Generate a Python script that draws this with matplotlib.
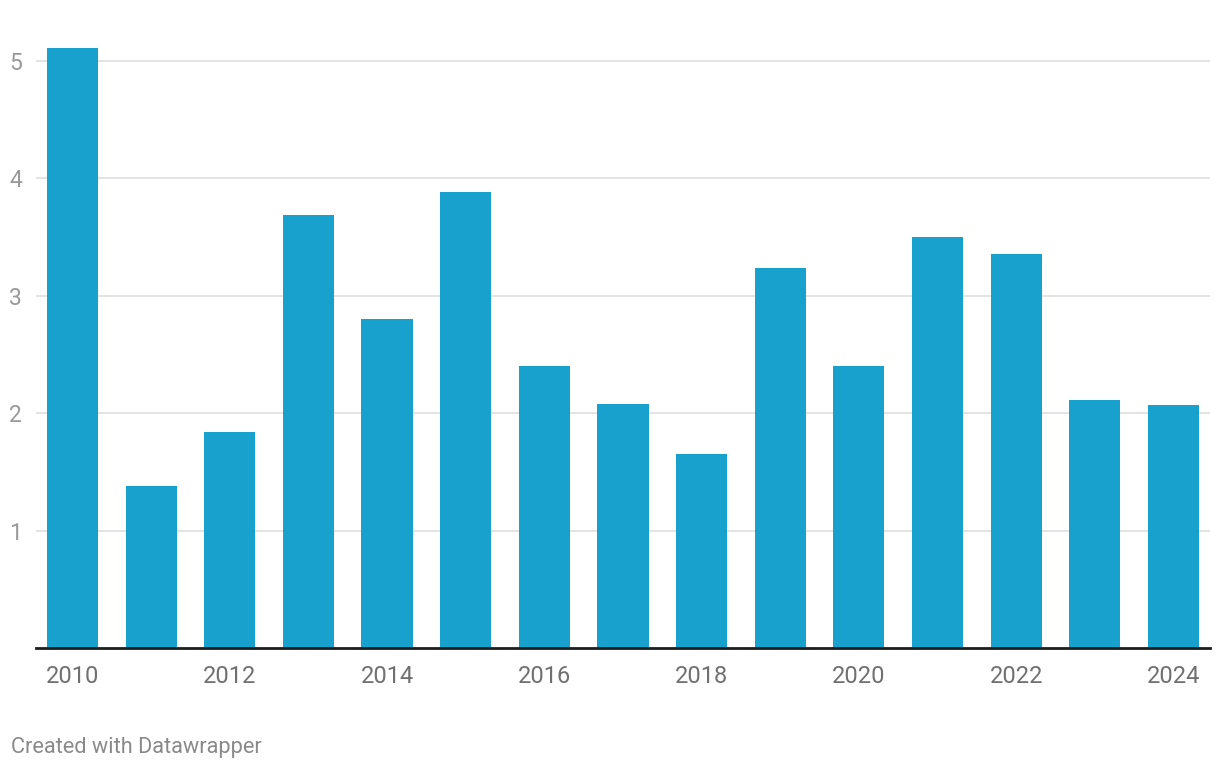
import matplotlib.pyplot as plt

# data
years = list(range(2010, 2025))
values = [5.11, 1.38, 1.84, 3.69, 2.80, 3.88, 2.40, 2.08, 1.65, 3.24, 2.40, 3.50, 3.36, 2.11, 2.07]
y_ticks = [1, 2, 3, 4, 5]
x_labels = ['2010', '2012', '2014', '2016', '2018', '2020', '2022', '2024']

plt.rcParams['font.family'] = ['Roboto', 'DejaVu Sans']

W, H = 1220, 770
fig = plt.figure(figsize=(W / 100, H / 100), dpi=100)
ax = fig.add_axes([36 / W, 122 / H, (1210 - 36) / W, (648 - 37.5) / H])

pos = list(range(len(years)))
ax.bar(pos, values, width=0.65, color='#18a1cd', zorder=3)

ax.set_xlim(-0.464, 14.465)
ax.set_ylim(0, 5.2)

ax.set_yticks(y_ticks)
ax.set_yticklabels([str(t) for t in y_ticks])
ax.grid(axis='y', color='#e3e3e3', linewidth=1.4, zorder=0)
ax.tick_params(axis='y', length=0, pad=10, labelsize=16.5, labelcolor='#999999')

ax.set_xticks([years.index(int(l)) for l in x_labels])
ax.set_xticklabels(x_labels)
ax.tick_params(axis='x', length=0, pad=12, labelsize=17, labelcolor='#707070')

for s in ['top', 'right', 'left']:
    ax.spines[s].set_visible(False)
ax.spines['bottom'].set_color('#1d1d1d')
ax.spines['bottom'].set_linewidth(2)
ax.spines['bottom'].set_zorder(4)

fig.text(11 / W, 1 - 748 / H, 'Created with Datawrapper', fontsize=15.7,
         color='#8a8a8a', va='center', ha='left')

fig.savefig('out.png', dpi=100)
